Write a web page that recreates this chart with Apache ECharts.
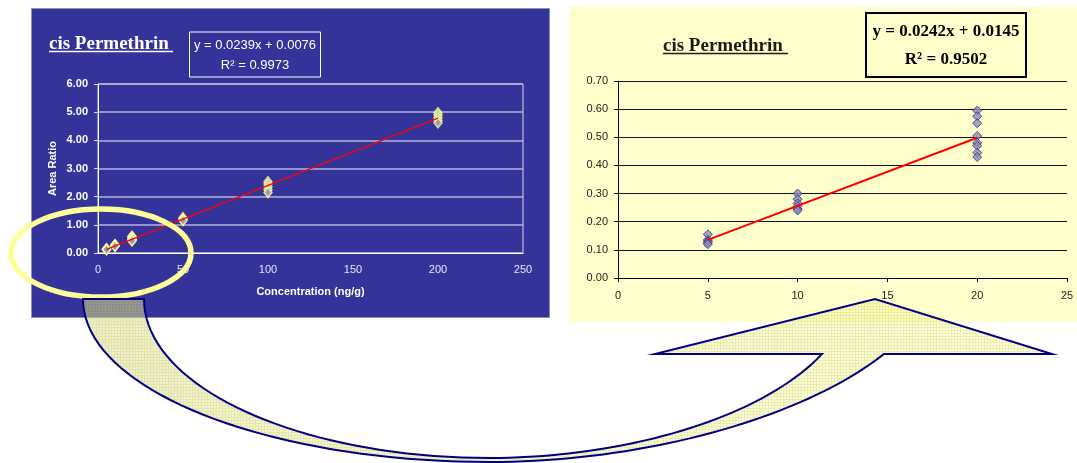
<!DOCTYPE html>
<html>
<head>
<meta charset="utf-8">
<script src="https://cdn.jsdelivr.net/npm/echarts@6/dist/echarts.min.js"></script>
<style>
  html, body { margin: 0; padding: 0; background: #ffffff; }
  #chart { width: 1077px; height: 463px; }
</style>
</head>
<body>
<div id="chart"></div>
<script>
// Replicate area ratios at each spiked concentration (ng/g)
const fullConcentrations = [5, 10, 20, 50, 100, 200];
const lowConcentrations = [5, 10, 20];
const ratioAt5 = [0.155, 0.135, 0.13, 0.125, 0.12];
const ratioAt10 = [0.30, 0.28, 0.265, 0.255, 0.245, 0.24];
const ratioAt20 = [0.595, 0.575, 0.55, 0.505, 0.48, 0.47, 0.445, 0.43];
const ratioAt50 = [1.25, 1.22, 1.18, 1.15];
const ratioAt100 = [2.53, 2.45, 2.35, 2.25, 2.15];
const ratioAt200 = [4.98, 4.90, 4.80, 4.70, 4.62];

// Linear fits (slope, intercept, R²)
const fullSlope = 0.0239, fullIntercept = 0.0076, fullR2 = 0.9973;
const lowSlope = 0.0242, lowIntercept = 0.0145, lowR2 = 0.9502;

// Axis ticks
const fullXTicks = [0, 50, 100, 150, 200, 250];
const fullYTicks = [0, 1, 2, 3, 4, 5, 6];
const lowXTicks = [0, 5, 10, 15, 20, 25];
const lowYTicks = [0, 0.1, 0.2, 0.3, 0.4, 0.5, 0.6, 0.7];

const titleText = 'cis Permethrin';
const xAxisTitle = 'Concentration (ng/g)';
const yAxisTitle = 'Area Ratio';

const ratiosByConc = {5: ratioAt5, 10: ratioAt10, 20: ratioAt20, 50: ratioAt50, 100: ratioAt100, 200: ratioAt200};
function pairs(concs) {
  const out = [];
  concs.forEach(c => ratiosByConc[c].forEach(v => out.push([c, v])));
  return out;
}
function fitLine(concs, slope, intercept) {
  const lo = Math.min(...concs), hi = Math.max(...concs);
  return [[lo, slope * lo + intercept], [hi, slope * hi + intercept]];
}
function eqText(slope, intercept) {
  return 'y = ' + slope.toFixed(4) + 'x + ' + intercept.toFixed(4);
}
function r2Text(r2) { return 'R\u00B2 = ' + r2.toFixed(4); }
function axisRange(ticks) {
  return { min: ticks[0], max: ticks[ticks.length - 1], interval: ticks[1] - ticks[0] };
}

// Curved call-out arrow from the low-range circle to the zoomed chart
function bez(p0, p1, p2, p3, n) {
  const pts = [];
  for (let i = 0; i <= n; i++) {
    const t = i / n, u = 1 - t;
    const a = u * u * u, b = 3 * u * u * t, c = 3 * u * t * t, d = t * t * t;
    pts.push([a * p0[0] + b * p1[0] + c * p2[0] + d * p3[0],
              a * p0[1] + b * p1[1] + c * p2[1] + d * p3[1]]);
  }
  return pts;
}
const arrowPts = [].concat(
  bez([83, 299], [83, 389], [265, 462], [490, 462], 40),
  bez([490, 462], [640, 462], [800, 420], [884, 354], 40).slice(1),
  [[1052, 354], [875, 299], [655, 354], [822, 354]],
  bez([822, 354], [760, 420], [620, 458], [490, 458], 40).slice(1),
  bez([490, 458], [299, 458], [144, 387], [144, 299], 40).slice(1)
);

// fine cross-hatch texture for the arrow body
function hatchTile() {
  const cv = document.createElement('canvas');
  cv.width = 3; cv.height = 3;
  const ctx = cv.getContext('2d');
  ctx.fillStyle = 'rgba(190, 190, 110, 0.28)';
  ctx.fillRect(0, 0, 3, 1);
  ctx.fillRect(0, 1, 1, 2);
  return cv;
}

const SANS = '"Liberation Sans", Arial, sans-serif';
const SERIF = '"Liberation Serif", "Times New Roman", serif';

const fullX = axisRange(fullXTicks), fullY = axisRange(fullYTicks);
const lowX = axisRange(lowXTicks), lowY = axisRange(lowYTicks);

const chart = echarts.init(document.getElementById('chart'));
chart.setOption({
  animation: false,
  grid: [
    { left: 98, top: 84, width: 425, height: 169, show: true, borderColor: '#d8d8ec', borderWidth: 1, backgroundColor: 'transparent' },
    { left: 618, top: 81, width: 449, height: 197, show: false }
  ],
  xAxis: [
    {
      gridIndex: 0, type: 'value', min: fullX.min, max: fullX.max, interval: fullX.interval,
      axisLine: { show: true, lineStyle: { color: '#ffffff', width: 1 } },
      axisTick: { show: false },
      splitLine: { show: false },
      axisLabel: { color: '#e8e8f4', fontSize: 11, fontFamily: SANS, margin: 11 },
      name: xAxisTitle, nameLocation: 'middle', nameGap: 33,
      nameTextStyle: { color: '#ffffff', fontWeight: 'bold', fontSize: 11, fontFamily: SANS }
    },
    {
      gridIndex: 1, type: 'value', min: lowX.min, max: lowX.max, interval: lowX.interval,
      axisLine: { show: true, lineStyle: { color: '#000000', width: 1 } },
      axisTick: { show: true, length: 4, lineStyle: { color: '#000000' } },
      splitLine: { show: false },
      axisLabel: { color: '#222222', fontSize: 11, fontFamily: SANS, margin: 12 }
    }
  ],
  yAxis: [
    {
      gridIndex: 0, type: 'value', min: fullY.min, max: fullY.max, interval: fullY.interval,
      axisLine: { show: true, lineStyle: { color: '#ffffff', width: 1 } },
      axisTick: { show: true, length: 4, lineStyle: { color: '#d8d8ec' } },
      splitLine: { show: true, lineStyle: { color: '#b4b4d8', width: 1.5 } },
      axisLabel: { color: '#ffffff', fontSize: 11, fontWeight: 'bold', fontFamily: SANS, margin: 10,
                   formatter: v => v.toFixed(2) },
      name: yAxisTitle, nameLocation: 'middle', nameGap: 40, nameRotate: 90,
      nameTextStyle: { color: '#ffffff', fontWeight: 'bold', fontSize: 11, fontFamily: SANS }
    },
    {
      gridIndex: 1, type: 'value', min: lowY.min, max: lowY.max, interval: lowY.interval,
      axisLine: { show: true, lineStyle: { color: '#000000', width: 1 } },
      axisTick: { show: true, length: 4, lineStyle: { color: '#000000' } },
      splitLine: { show: true, lineStyle: { color: '#111111', width: 1 } },
      axisLabel: { color: '#222222', fontSize: 11, fontFamily: SANS, margin: 10,
                   formatter: v => v.toFixed(2) }
    }
  ],
  series: [
    {
      type: 'scatter', xAxisIndex: 0, yAxisIndex: 0, data: pairs(fullConcentrations),
      symbol: 'diamond', symbolSize: [8, 10],
      itemStyle: { color: '#9797b0', borderColor: '#ffff99', borderWidth: 1.5 }, z: 3
    },
    {
      type: 'line', xAxisIndex: 0, yAxisIndex: 0, data: fitLine(fullConcentrations, fullSlope, fullIntercept),
      symbol: 'none', lineStyle: { color: '#ff0000', width: 1.3 }, z: 4
    },
    {
      type: 'scatter', xAxisIndex: 1, yAxisIndex: 1, data: pairs(lowConcentrations),
      symbol: 'diamond', symbolSize: [9, 9],
      itemStyle: { color: '#8c8cb4', borderColor: '#2a2a8c', borderWidth: 1 }, z: 3
    },
    {
      type: 'line', xAxisIndex: 1, yAxisIndex: 1, data: fitLine(lowConcentrations, lowSlope, lowIntercept),
      symbol: 'none', lineStyle: { color: '#ff0000', width: 2 }, z: 4
    }
  ],
  graphic: [
    // panel backgrounds
    { type: 'rect', z: -10, shape: { x: 31.5, y: 8.5, width: 518, height: 309 },
      style: { fill: '#333399', stroke: '#8c8cc4', lineWidth: 1 } },
    { type: 'rect', z: -10, shape: { x: 570, y: 7, width: 507, height: 315 },
      style: { fill: '#ffffcc' } },

    // full-range title and fit equation
    { type: 'text', z: 10, style: { text: titleText, x: 49, y: 44, font: 'bold 19px ' + SERIF, fill: '#ffffff',
      align: 'left', verticalAlign: 'middle', textAlign: 'left', textVerticalAlign: 'middle' } },
    { type: 'line', z: 10, shape: { x1: 49, y1: 51.5, x2: 173, y2: 51.5 }, style: { stroke: '#ffffff', lineWidth: 1.5 } },
    { type: 'rect', z: 10, shape: { x: 189.5, y: 32, width: 131, height: 45 },
      style: { fill: 'none', stroke: '#ffffff', lineWidth: 1 } },
    { type: 'text', z: 10, style: { text: eqText(fullSlope, fullIntercept), x: 255, y: 45, font: '13px ' + SANS, fill: '#ffffff',
      align: 'center', verticalAlign: 'middle', textAlign: 'center', textVerticalAlign: 'middle' } },
    { type: 'text', z: 10, style: { text: r2Text(fullR2), x: 255, y: 65, font: '13px ' + SANS, fill: '#ffffff',
      align: 'center', verticalAlign: 'middle', textAlign: 'center', textVerticalAlign: 'middle' } },

    // low-range title and fit equation
    { type: 'text', z: 10, style: { text: titleText, x: 663, y: 46, font: 'bold 19px ' + SERIF, fill: '#1a1a1a',
      align: 'left', verticalAlign: 'middle', textAlign: 'left', textVerticalAlign: 'middle' } },
    { type: 'line', z: 10, shape: { x1: 663, y1: 53.5, x2: 788, y2: 53.5 }, style: { stroke: '#1a1a1a', lineWidth: 1.5 } },
    { type: 'rect', z: 10, shape: { x: 866, y: 13, width: 160, height: 64 },
      style: { fill: 'none', stroke: '#000000', lineWidth: 2 } },
    { type: 'text', z: 10, style: { text: eqText(lowSlope, lowIntercept), x: 946, y: 32, font: 'bold 17px ' + SERIF, fill: '#000000',
      align: 'center', verticalAlign: 'middle', textAlign: 'center', textVerticalAlign: 'middle' } },
    { type: 'text', z: 10, style: { text: r2Text(lowR2), x: 946, y: 60, font: 'bold 17px ' + SERIF, fill: '#000000',
      align: 'center', verticalAlign: 'middle', textAlign: 'center', textVerticalAlign: 'middle' } },

    // highlight ring around the low-concentration points
    { type: 'ellipse', z: 50, shape: { cx: 101, cy: 253, rx: 90, ry: 44 },
      style: { fill: 'none', stroke: '#ffff99', lineWidth: 5.5 } },

    // call-out arrow: tinted body, hatch texture, outline
    { type: 'polygon', z: 50, shape: { points: arrowPts },
      style: {
        fill: { type: 'linear', x: 0, y: 0, x2: 1, y2: 0, colorStops: [
          { offset: 0, color: 'rgba(225, 225, 140, 0.5)' },
          { offset: 0.5, color: 'rgba(248, 248, 160, 0.45)' },
          { offset: 1, color: 'rgba(255, 255, 170, 0.55)' }
        ] }
      } },
    { type: 'polygon', z: 51, shape: { points: arrowPts },
      style: { fill: { image: hatchTile(), repeat: 'repeat' } } },
    { type: 'polygon', z: 52, shape: { points: arrowPts },
      style: { fill: 'none', stroke: '#000080', lineWidth: 2, lineJoin: 'miter' } }
  ]
});
</script>
</body>
</html>
